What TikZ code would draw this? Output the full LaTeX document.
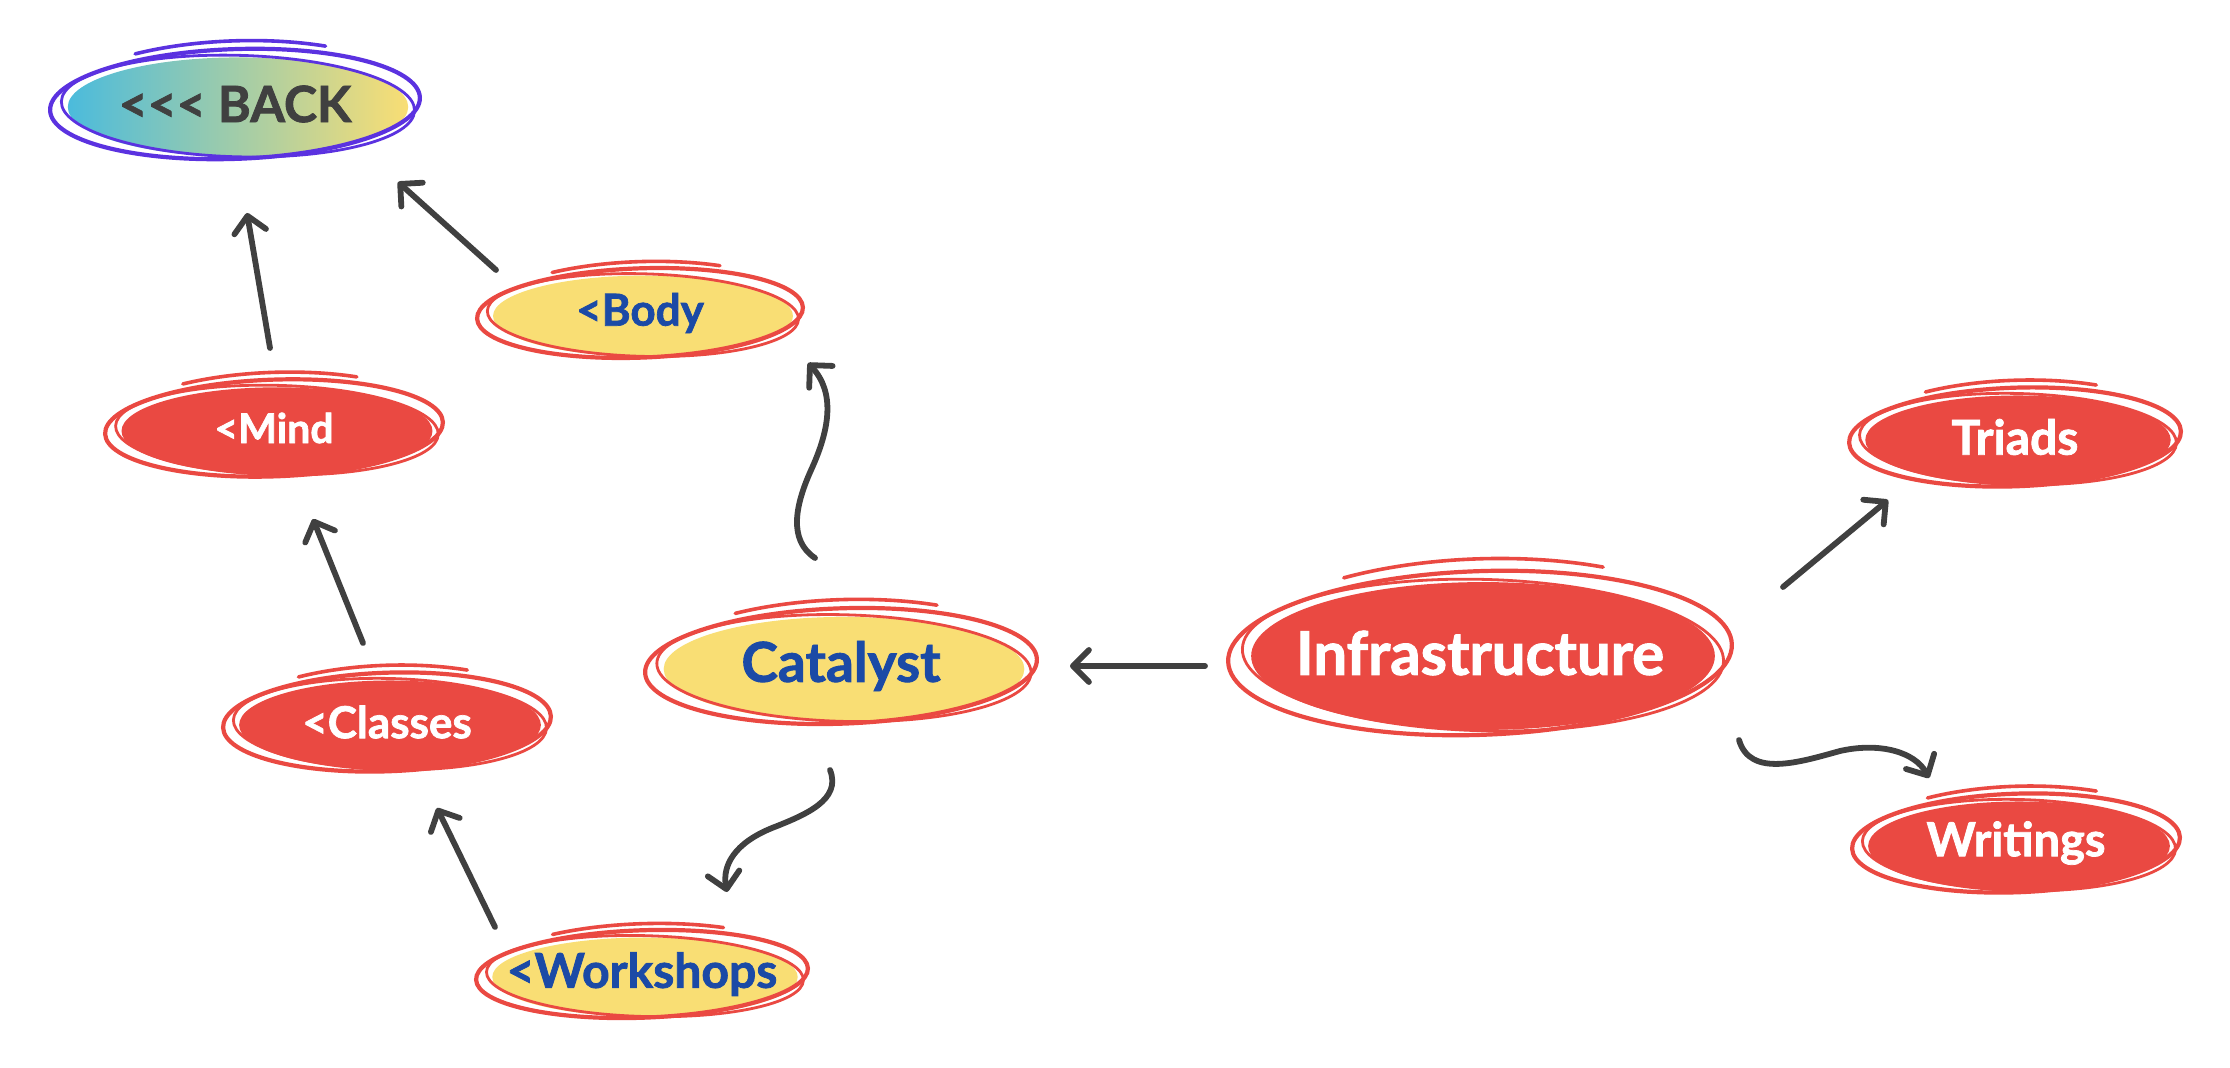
\documentclass[tikz,border=0pt]{standalone}
\usepackage{fontspec}
\setmainfont{Lato}[BoldFeatures={FakeBold=1.6}]
\usetikzlibrary{arrows.meta,calc,shapes.geometric}
\definecolor{redf}{HTML}{EA4942}
\definecolor{yel}{HTML}{F9DE74}
\definecolor{bluet}{HTML}{1B4AA6}
\definecolor{ink}{HTML}{404040}
\definecolor{purp}{HTML}{5B32E0}
\definecolor{cyanf}{HTML}{4BBBDC}
\tikzset{
  arr/.style={draw=ink, line width=2.9pt, line cap=round,
    -{Straight Barb[length=8pt,width=16pt,line width=2.9pt,round]}},
  lbl/.style={font=\bfseries\fontsize{22}{25}\selectfont, inner sep=0pt},
  fs/.style={font=\bfseries\fontsize{#1}{#1}\selectfont},
}
% #1 name, #2 x, #3 y, #4 rx, #5 ry, #6 fill opts, #7 stroke colour, #8 text opts, #9 text
\newcommand\blob[9]{%
  \path[#6] (#2+3,#3+3) ellipse [x radius={0.92*#4}, y radius={0.84*#5}];
  \draw[#7, line width=2.1pt, rotate around={2:(#2,#3)}] (#2,#3) ellipse [x radius={#4}, y radius={0.93*#5}];
  \draw[#7, line width=1.4pt, rotate around={-1.5:(#2,#3)}] (#2+3,#3+2) ellipse [x radius={0.955*#4}, y radius={0.86*#5}];
  \draw[#7, line width=1.8pt, line cap=round, rotate around={2:(#2,#3)}] ($(#2,#3)+({#4*cos(238)},{1.07*#5*sin(238)})$) arc [start angle=238, end angle=300, x radius={#4}, y radius={1.07*#5}];
  \node[lbl, ellipse, minimum width={#4*1pt}, minimum height={#5*1pt}, #8] (#1) at (#2,#3) {#9};
}
\begin{document}
\begin{tikzpicture}[x=0.5pt,y=-0.5pt]
\useasboundingbox[fill=white] (0,0) rectangle (2230,1068);

\blob{back}{235}{104}{185}{59}{left color=cyanf,right color=yel}{purp}{text=ink,fs=25}{<\kern0pt<\kern0pt< BACK}
\blob{body}{640}{313}{163}{48}{fill=yel}{redf}{text=bluet,fs=22}{<Body}
\blob{mind}{274}{428}{169}{52}{fill=redf}{redf}{text=white,fs=20.5}{<Mind}
\blob{classes}{387}{722}{164}{53}{fill=redf}{redf}{text=white,fs=22}{<Classes}
\blob{cat}{841}{666}{196}{62}{fill=yel}{redf}{text=bluet,fs=27.5}{Catalyst}
\blob{work}{642}{974}{166}{47}{fill=yel}{redf}{text=bluet,fs=24}{<Workshops}
\blob{infra}{1480}{653}{252}{88}{fill=redf}{redf}{text=white,fs=30}{Infrastructure}
\blob{triads}{2015}{437}{166}{53}{fill=redf}{redf}{text=white,fs=24}{Triads}
\blob{writ}{2016}{843}{164}{53}{fill=redf}{redf}{text=white,fs=23.5}{Writings}

% connectors
\draw[arr] ($(mind)+(-4,-80)$) -- ($(back)+(12,109)$);
\draw[arr] ($(body)+(-144,-43)$) -- ($(back)+(163,78)$);
\draw[arr] ($(classes)+(-24,-79)$) -- ($(mind)+(39,91)$);
\draw[arr] ($(work)+(-147,-47)$) -- ($(classes)+(50,86)$);
\draw[arr] ($(cat)+(-26,-108)$) .. controls (788,540) and (795,505) .. (812,468)
   .. controls (830,428) and (835,392) .. ($(body)+(168,50)$);
\draw[arr] ($(cat)+(-11,104)$) .. controls (842,800) and (805,815) .. (772,828)
   .. controls (735,843) and (722,865) .. ($(work)+(85,-82)$);
\draw[arr] ($(infra)+(-275,13)$) -- ($(cat)+(229,0)$);
\draw[arr] ($(infra)+(303,-66)$) -- ($(triads)+(-127,63)$);
\draw[arr] ($(infra)+(259,87)$) .. controls (1750,778) and (1800,762) .. (1840,751)
   .. controls (1880,742) and (1915,752) .. ($(writ)+(-87,-65)$);
\end{tikzpicture}
\end{document}
